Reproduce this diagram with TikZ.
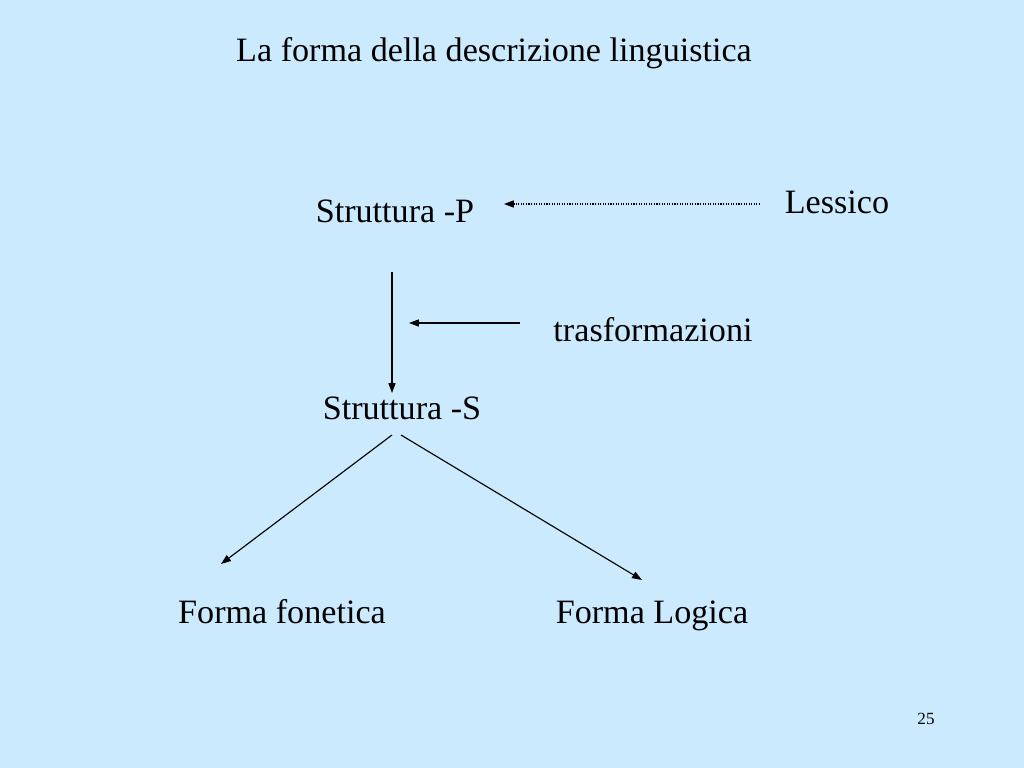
\documentclass[tikz,border=0pt]{standalone}
\usepackage{fontspec}
\setmainfont{Liberation Serif}
\usepackage{tikz}
\usetikzlibrary{arrows.meta}
\definecolor{slideblue}{HTML}{CCEAFE}

\tikzset{
	lbl/.style={anchor=base, font=\fontsize{24}{28}\selectfont},
	arr/.style={-{Triangle[length=7pt,width=5pt]}, line width=0.8pt}
}

\begin{document}
\begin{tikzpicture}[x=0.703125pt, y=-0.703125pt]
	\fill[color=slideblue] (0,0) rectangle (1024,768);
	\useasboundingbox (0,0) rectangle (1024,768);
	
	\node[lbl] (title) at (494,62) {La forma della descrizione linguistica};
	
	\node[lbl] (sp) at (395,223) {Struttura -P};
	\node[lbl] (lex) at (837,214) {Lessico};
	\node[lbl] (trasf) at (653,342) {trasformazioni};
	\node[lbl] (ss) at (402,419) {Struttura -S};
	\node[lbl] (ff) at (282,623) {Forma fonetica};
	\node[lbl] (fl) at (652,623) {Forma Logica};
	\node[anchor=base, font=\fontsize{12}{14}\selectfont] (num) at (926,724) {25};
	
	% punti di partenza e arrivo delle frecce
	\coordinate (lexA) at (760,204);
	\coordinate (lexB) at (504,204);
	\coordinate (trA) at (520,323);
	\coordinate (trB) at (409,323);
	\coordinate (spB) at (392,272);
	\coordinate (ssA) at (392,393);
	\coordinate (ssL) at (392,435);
	\coordinate (ssR) at (401,435);
	\coordinate (ffA) at (221,564);
	\coordinate (flA) at (642,580);
	
	\draw[arr, densely dotted] (lexA) -- (lexB);
	\draw[arr] (trA) -- (trB);
	\draw[arr] (spB) -- (ssA);
	\draw[arr] (ssL) -- (ffA);
	\draw[arr] (ssR) -- (flA);
\end{tikzpicture}
\end{document}
